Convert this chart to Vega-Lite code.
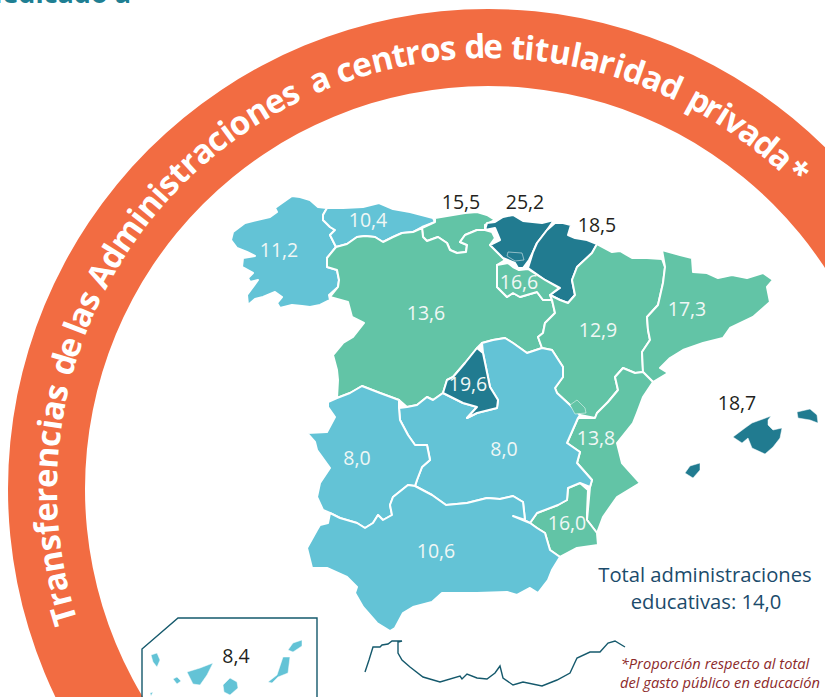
{
"$schema":"https://vega.github.io/schema/vega-lite/v6.json",
"width":825,"height":697,"autosize":"none","padding":0,"background":"white",
"view":{"stroke":null},
"datasets":{
"regions":[
{"type":"Feature","properties":{"name":"Galicia","value":11.2},"geometry":{"type":"Polygon","coordinates":[[[231,240],[233,232],[245,223],[257,220],[270,217],[277,212],[275,208],[282,203],[292,196],[300,197],[310,200],[318,207],[327,208],[323,215],[323,220],[330,227],[335,230],[330,235],[336,247],[327,258],[327,267],[337,270],[339,280],[338,287],[329,295],[330,300],[320,305],[310,307],[302,306],[292,305],[280,308],[277,303],[282,297],[275,292],[263,297],[255,299],[248,305],[247,295],[258,280],[250,282],[248,278],[253,273],[242,267],[243,258],[255,256],[247,252],[237,248],[231,240]]]}},
{"type":"Feature","properties":{"name":"Asturias","value":10.4},"geometry":{"type":"Polygon","coordinates":[[[327,208],[343,208],[363,207],[379,203],[393,209],[410,212],[433,218],[435,222],[422,227],[413,232],[402,233],[393,237],[383,242],[375,237],[365,236],[357,237],[347,244],[336,247],[330,235],[335,230],[330,227],[323,220],[323,215],[327,208]]]}},
{"type":"Feature","properties":{"name":"Cantabria","value":15.5},"geometry":{"type":"Polygon","coordinates":[[[435,218],[453,215],[465,213],[477,212],[487,215],[495,220],[485,225],[485,230],[477,230],[465,235],[460,242],[467,245],[466,252],[457,253],[450,250],[447,243],[438,237],[427,241],[423,237],[422,228],[435,222],[435,218]]]}},
{"type":"Feature","properties":{"name":"Castilla y León","value":13.6},"geometry":{"type":"Polygon","coordinates":[[[336,247],[347,244],[357,237],[365,236],[375,237],[383,242],[393,237],[402,233],[413,232],[422,228],[423,237],[427,241],[438,237],[447,243],[450,250],[457,253],[466,252],[467,245],[460,242],[465,235],[477,230],[485,230],[492,232],[495,238],[490,245],[497,252],[505,260],[497,265],[497,287],[507,297],[513,293],[520,297],[537,292],[543,300],[552,300],[555,313],[545,323],[543,333],[538,337],[542,348],[527,353],[513,343],[505,338],[493,340],[482,343],[477,348],[465,363],[453,377],[447,380],[443,393],[433,400],[427,397],[417,405],[407,407],[399,400],[380,393],[362,386],[350,393],[337,398],[338,380],[337,370],[333,355],[343,343],[353,337],[364,323],[352,317],[348,302],[330,297],[338,287],[339,280],[337,270],[327,267],[327,258],[336,247]]]}},
{"type":"Feature","properties":{"name":"País Vasco","value":25.2},"geometry":{"type":"Polygon","coordinates":[[[487,223],[495,222],[503,217],[513,215],[523,221],[542,223],[554,220],[547,230],[537,243],[533,252],[529,260],[523,268],[518,268],[515,263],[503,258],[497,252],[490,245],[500,240],[495,228],[485,230],[487,223]]]}},
{"type":"Feature","properties":{"name":"Navarra","value":18.5},"geometry":{"type":"Polygon","coordinates":[[[555,223],[563,223],[571,225],[568,235],[575,238],[587,240],[597,244],[592,253],[577,267],[572,280],[575,295],[568,303],[560,300],[550,295],[560,288],[545,280],[528,268],[533,252],[537,243],[547,230],[555,223]]]}},
{"type":"Feature","properties":{"name":"La Rioja","value":16.6},"geometry":{"type":"Polygon","coordinates":[[[497,265],[508,263],[513,267],[519,270],[528,269],[545,280],[559,288],[550,295],[552,300],[543,300],[537,292],[520,297],[513,293],[507,297],[497,287],[497,265]]]}},
{"type":"Feature","properties":{"name":"Aragón","value":12.9},"geometry":{"type":"Polygon","coordinates":[[[597,244],[612,252],[620,251],[632,258],[647,258],[662,259],[665,267],[663,283],[658,305],[647,317],[648,330],[650,340],[642,352],[643,372],[635,373],[623,368],[615,377],[618,390],[608,402],[597,413],[595,418],[580,415],[570,405],[557,393],[555,388],[563,377],[563,367],[552,350],[542,348],[538,337],[543,333],[545,323],[555,313],[552,300],[550,295],[560,300],[568,303],[575,295],[572,280],[577,267],[592,253],[597,244]]]}},
{"type":"Feature","properties":{"name":"Cataluña","value":17.3},"geometry":{"type":"Polygon","coordinates":[[[662,250],[680,255],[692,258],[693,272],[707,273],[718,278],[732,275],[747,278],[763,273],[773,280],[767,287],[770,302],[753,317],[730,328],[723,338],[703,343],[683,350],[670,358],[660,368],[668,373],[653,382],[643,372],[642,352],[650,340],[648,330],[647,317],[658,305],[663,283],[665,267],[662,250]]]}},
{"type":"Feature","properties":{"name":"C. Valenciana","value":13.8},"geometry":{"type":"Polygon","coordinates":[[[653,382],[643,397],[637,413],[633,423],[617,443],[622,463],[640,483],[617,497],[603,517],[597,533],[587,520],[590,487],[592,480],[577,463],[580,452],[567,443],[578,418],[595,418],[597,413],[608,402],[618,390],[615,377],[623,368],[635,373],[643,372],[653,382]]]}},
{"type":"Feature","properties":{"name":"Murcia","value":16.0},"geometry":{"type":"Polygon","coordinates":[[[530,523],[537,513],[558,505],[567,500],[568,488],[580,483],[588,490],[587,513],[587,520],[597,533],[598,545],[577,548],[560,557],[550,550],[545,533],[537,528],[530,523]]]}},
{"type":"Feature","properties":{"name":"Castilla-La Mancha","value":8.0},"geometry":{"type":"Polygon","coordinates":[[[482,343],[493,340],[505,338],[513,343],[527,353],[542,348],[552,350],[563,367],[563,377],[555,388],[557,393],[570,405],[580,415],[578,418],[567,443],[580,452],[577,463],[592,480],[590,487],[580,483],[568,488],[567,500],[558,505],[537,513],[530,523],[525,520],[523,502],[513,496],[500,499],[487,498],[467,503],[446,505],[432,495],[415,486],[417,480],[422,467],[430,460],[427,445],[415,445],[408,435],[400,420],[399,408],[407,407],[417,405],[427,397],[433,400],[443,393],[463,403],[477,407],[467,418],[477,413],[497,408],[498,400],[490,387],[483,353],[482,343]]]}},
{"type":"Feature","properties":{"name":"Madrid","value":19.6},"geometry":{"type":"Polygon","coordinates":[[[477,348],[483,353],[490,387],[498,400],[497,408],[477,413],[467,418],[477,407],[463,403],[443,393],[447,380],[453,377],[465,363],[477,348]]]}},
{"type":"Feature","properties":{"name":"Extremadura","value":8.0},"geometry":{"type":"Polygon","coordinates":[[[328,402],[337,398],[350,393],[362,386],[380,393],[399,400],[399,408],[400,420],[408,435],[415,445],[427,445],[430,460],[422,467],[417,480],[415,486],[408,485],[393,497],[390,505],[392,515],[383,520],[378,515],[373,523],[365,528],[357,523],[340,518],[330,513],[323,510],[317,497],[320,483],[330,468],[317,450],[315,442],[307,433],[327,432],[335,417],[328,407],[328,402]]]}},
{"type":"Feature","properties":{"name":"Andalucía","value":10.6},"geometry":{"type":"Polygon","coordinates":[[[330,513],[340,518],[357,523],[365,528],[373,523],[378,515],[383,520],[392,515],[390,505],[393,497],[408,485],[415,486],[432,495],[446,505],[467,503],[487,498],[500,499],[513,496],[523,502],[525,520],[513,516],[530,523],[537,528],[545,533],[550,550],[560,557],[552,570],[548,580],[538,593],[530,588],[517,595],[507,592],[477,593],[442,593],[432,602],[413,607],[403,613],[395,628],[390,631],[377,623],[363,607],[355,593],[357,587],[347,577],[327,568],[312,568],[307,548],[317,530],[320,525],[328,523],[330,513]]]}}
],
"islands":[
{"type":"Feature","properties":{"name":"Treviño","value":25.2},"geometry":{"type":"Polygon","coordinates":[[[508,252],[522,253],[524,260],[515,261],[507,256],[508,252]]]}},
{"type":"Feature","properties":{"name":"Rincón de Ademuz","value":13.8},"geometry":{"type":"Polygon","coordinates":[[[570,405],[577,400],[585,408],[586,413],[575,414],[570,405]]]}},
{"type":"Feature","properties":{"name":"Mallorca","value":18.7},"geometry":{"type":"Polygon","coordinates":[[[733,437],[745,428],[752,423],[763,419],[771,416],[768,420],[768,425],[773,430],[782,428],[780,438],[773,447],[765,454],[752,448],[748,438],[742,443],[733,437]]]}},
{"type":"Feature","properties":{"name":"Menorca","value":18.7},"geometry":{"type":"Polygon","coordinates":[[[797,412],[810,409],[817,415],[818,423],[810,420],[798,418],[797,412]]]}},
{"type":"Feature","properties":{"name":"Ibiza","value":18.7},"geometry":{"type":"Polygon","coordinates":[[[685,473],[690,466],[700,463],[700,470],[693,478],[685,473]]]}},
{"type":"Feature","properties":{"name":"La Palma","value":8.4},"geometry":{"type":"Polygon","coordinates":[[[151,655],[157,653],[160,660],[157,667],[153,662],[151,655]]]}},
{"type":"Feature","properties":{"name":"La Gomera","value":8.4},"geometry":{"type":"Polygon","coordinates":[[[173,679],[177,677],[181,681],[177,684],[173,679]]]}},
{"type":"Feature","properties":{"name":"Tenerife","value":8.4},"geometry":{"type":"Polygon","coordinates":[[[187,672],[200,668],[213,663],[207,675],[200,685],[193,684],[187,672]]]}},
{"type":"Feature","properties":{"name":"Gran Canaria","value":8.4},"geometry":{"type":"Polygon","coordinates":[[[223,685],[230,678],[237,682],[238,688],[230,695],[224,692],[223,685]]]}},
{"type":"Feature","properties":{"name":"Fuerteventura","value":8.4},"geometry":{"type":"Polygon","coordinates":[[[283,657],[290,657],[288,673],[278,677],[272,683],[268,682],[277,675],[283,657]]]}},
{"type":"Feature","properties":{"name":"Lanzarote","value":8.4},"geometry":{"type":"Polygon","coordinates":[[[288,650],[293,643],[302,640],[302,646],[293,652],[288,650]]]}},
{"type":"Feature","properties":{"name":"El Hierro","value":8.4},"geometry":{"type":"Polygon","coordinates":[[[150,693],[153,692],[151,696],[150,693]]]}}
],
"outlines":[
{"type":"Feature","properties":{"name":"Recuadro Canarias"},"geometry":{"type":"LineString","coordinates":[[142,698],[142,649],[178,618],[317,618],[317,698]]}},
{"type":"Feature","properties":{"name":"Costa de África"},"geometry":{"type":"LineString","coordinates":[[365,672],[369,660],[373,647],[380,647],[382,645],[388,644],[392,641],[402,641],[398,642],[398,653],[402,660],[410,667],[423,677],[440,682],[460,676],[462,679],[467,674],[477,678],[487,679],[495,673],[500,666],[503,678],[513,685],[523,682],[542,686],[557,680],[570,673],[577,658],[590,652],[600,652],[608,643],[615,641],[625,647]]}}
],
"arcTitle":[
{"c":"T","deg":-106.6},{"c":"r","deg":-104.4},{"c":"a","deg":-102.2},{"c":"n","deg":-99.5},{"c":"s","deg":-97.0},{"c":"f","deg":-95.1},{"c":"e","deg":-93.0},{"c":"r","deg":-90.8},{"c":"e","deg":-88.6},{"c":"n","deg":-85.9},{"c":"c","deg":-83.4},{"c":"i","deg":-81.6},{"c":"a","deg":-79.7},{"c":"s","deg":-77.4},
{"c":"d","deg":-73.6},{"c":"e","deg":-71.3},
{"c":"l","deg":-68.7},{"c":"a","deg":-67.0},{"c":"s","deg":-64.7},
{"c":"A","deg":-61.1},{"c":"d","deg":-58.3},{"c":"m","deg":-54.9},{"c":"i","deg":-52.2},{"c":"n","deg":-50.1},{"c":"i","deg":-48.1},{"c":"s","deg":-46.4},{"c":"t","deg":-44.4},{"c":"r","deg":-42.5},{"c":"a","deg":-40.3},{"c":"c","deg":-38.0},{"c":"i","deg":-36.2},{"c":"o","deg":-34.3},{"c":"n","deg":-31.5},{"c":"e","deg":-28.9},{"c":"s","deg":-26.6},
{"c":"a","deg":-22.4},
{"c":"c","deg":-18.9},{"c":"e","deg":-16.6},{"c":"n","deg":-13.9},{"c":"t","deg":-11.6},{"c":"r","deg":-9.8},{"c":"o","deg":-7.5},{"c":"s","deg":-5.2},
{"c":"d","deg":-1.7},{"c":"e","deg":0.65},
{"c":"t","deg":3.9},{"c":"i","deg":5.4},{"c":"t","deg":7.0},{"c":"u","deg":9.4},{"c":"l","deg":11.5},{"c":"a","deg":13.4},{"c":"r","deg":15.6},{"c":"i","deg":17.3},{"c":"d","deg":19.3},{"c":"a","deg":21.9},{"c":"d","deg":24.5},
{"c":"p","deg":28.6},{"c":"r","deg":30.6},{"c":"i","deg":32.2},{"c":"v","deg":34.0},{"c":"a","deg":36.4},{"c":"d","deg":38.9},{"c":"a","deg":41.5},{"c":"*","deg":44.3}
],
"labels":[
{"t":"10,4","x":368,"y":221,"where":"dentro"},{"t":"11,2","x":279,"y":251,"where":"dentro"},{"t":"13,6","x":426,"y":314,"where":"dentro"},{"t":"16,6","x":519,"y":283,"where":"dentro"},{"t":"12,9","x":598,"y":331,"where":"dentro"},{"t":"17,3","x":687,"y":310,"where":"dentro"},{"t":"19,6","x":468,"y":385,"where":"dentro"},{"t":"13,8","x":596,"y":439,"where":"dentro"},{"t":"8,0","x":357,"y":459,"where":"dentro"},{"t":"8,0","x":504,"y":450,"where":"dentro"},{"t":"16,0","x":567,"y":524,"where":"dentro"},{"t":"10,6","x":436,"y":552,"where":"dentro"},
{"t":"15,5","x":461,"y":203,"where":"fuera"},{"t":"25,2","x":525,"y":203,"where":"fuera"},{"t":"18,5","x":597,"y":226,"where":"fuera"},{"t":"18,7","x":737,"y":404,"where":"fuera"},{"t":"8,4","x":236,"y":657,"where":"fuera"}
]
},
"layer":[
{"data":{"values":[{"cx":488,"cy":489}]},
 "mark":{"type":"arc","innerRadius":403,"outerRadius":480,"theta":0,"theta2":6.2832,"color":"#F26C42"},
 "encoding":{"x":{"field":"cx","type":"quantitative","scale":{"domain":[0,825],"range":[0,825]},"axis":null},"y":{"field":"cy","type":"quantitative","scale":{"domain":[0,697],"range":[0,697]},"axis":null}}},
{"data":{"name":"arcTitle"},
 "mark":{"type":"text","radius":431,"font":"Open Sans","fontWeight":"bold","fontSize":33,"color":"white","align":"center","baseline":"alphabetic"},
 "encoding":{
  "x":{"datum":488,"type":"quantitative","scale":{"domain":[0,825],"range":[0,825]},"axis":null},
  "y":{"datum":489,"type":"quantitative","scale":{"domain":[0,697],"range":[0,697]},"axis":null},
  "theta":{"field":"deg","type":"quantitative","stack":false,"scale":{"domain":[-180,180],"range":[-3.14159265,3.14159265]}},
  "angle":{"field":"deg","type":"quantitative","scale":{"domain":[-180,180],"range":[-180,180]},"legend":null},
  "text":{"field":"c"}}},
{"data":{"name":"regions"},
 "mark":{"type":"geoshape","stroke":"white","strokeWidth":2,"strokeJoin":"round"},
 "projection":{"type":"identity","scale":1,"translate":[0,0]},
 "encoding":{"color":{"field":"properties.value","type":"quantitative","legend":null,"scale":{"type":"threshold","domain":[12,18],"range":["#63C3D6","#62C4A6","#217B90"]}}}},
{"data":{"name":"islands"},
 "mark":{"type":"geoshape","stroke":"white","strokeWidth":0.5},
 "projection":{"type":"identity","scale":1,"translate":[0,0]},
 "encoding":{"color":{"field":"properties.value","type":"quantitative","legend":null,"scale":{"type":"threshold","domain":[12,18],"range":["#63C3D6","#62C4A6","#217B90"]}}}},
{"data":{"name":"outlines"},
 "mark":{"type":"geoshape","filled":false,"stroke":"#15596C","strokeWidth":1.4},
 "projection":{"type":"identity","scale":1,"translate":[0,0]},
 "encoding":{}},
{"data":{"name":"labels"},
 "mark":{"type":"text","font":"Open Sans","fontSize":19.5,"baseline":"middle","align":"center"},
 "encoding":{
  "x":{"field":"x","type":"quantitative","scale":{"domain":[0,825],"range":[0,825]},"axis":null},
  "y":{"field":"y","type":"quantitative","scale":{"domain":[0,697],"range":[0,697]},"axis":null},
  "text":{"field":"t"},
  "color":{"field":"where","type":"nominal","legend":null,"scale":{"domain":["dentro","fuera"],"range":["#F0F7F5","#231F20"]}}}},
{"data":{"values":[{"t":"Total administraciones","x":705,"y":576},{"t":"educativas: 14,0","x":706,"y":603}]},
 "mark":{"type":"text","font":"Open Sans","fontSize":20.2,"color":"#1B4B6B","baseline":"middle","align":"center"},
 "encoding":{
  "x":{"field":"x","type":"quantitative","scale":{"domain":[0,825],"range":[0,825]},"axis":null},
  "y":{"field":"y","type":"quantitative","scale":{"domain":[0,697],"range":[0,697]},"axis":null},
  "text":{"field":"t"}}},
{"data":{"values":[{"t":"*Proporción respecto al total","x":715,"y":665},{"t":"del gasto público en educación","x":720,"y":684}]},
 "mark":{"type":"text","font":"Open Sans","fontSize":14.7,"fontStyle":"italic","color":"#8C2A2A","baseline":"middle","align":"center"},
 "encoding":{
  "x":{"field":"x","type":"quantitative","scale":{"domain":[0,825],"range":[0,825]},"axis":null},
  "y":{"field":"y","type":"quantitative","scale":{"domain":[0,697],"range":[0,697]},"axis":null},
  "text":{"field":"t"}}},
{"data":{"values":[{"t":"dedicado a","x":131,"y":3}]},
 "mark":{"type":"text","font":"Open Sans","fontSize":27,"fontWeight":"bold","color":"#1F7F93","baseline":"alphabetic","align":"right"},
 "encoding":{
  "x":{"field":"x","type":"quantitative","scale":{"domain":[0,825],"range":[0,825]},"axis":null},
  "y":{"field":"y","type":"quantitative","scale":{"domain":[0,697],"range":[0,697]},"axis":null},
  "text":{"field":"t"}}}
]
}
